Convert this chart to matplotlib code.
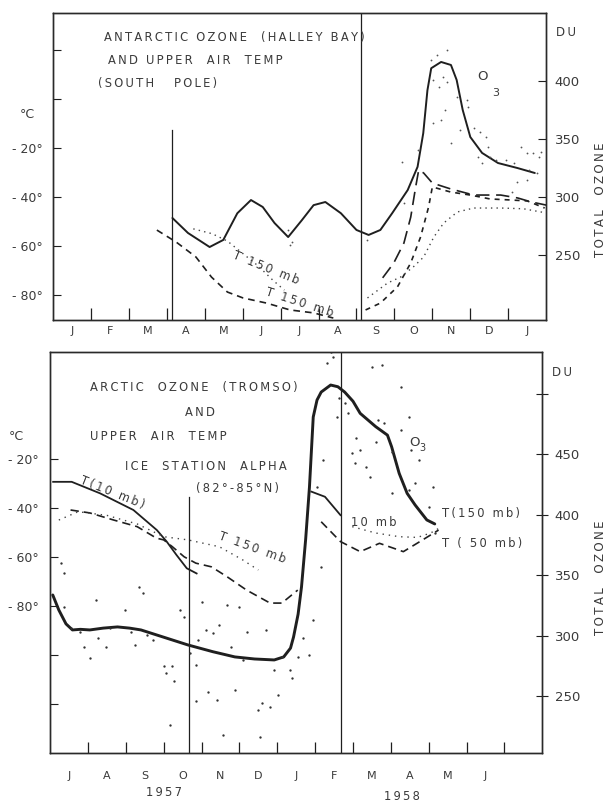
import matplotlib
matplotlib.use('Agg')
import matplotlib.pyplot as plt

# ---------------- data: top panel (Antarctic) ----------------
top_month_labels = ['J', 'F', 'M', 'A', 'M', 'J', 'J', 'A', 'S', 'O', 'N', 'D', 'J']
top_vlines = [3.15, 8.11]

top_o3_m = [3.15, 3.56, 4.13, 4.49, 4.86, 5.22, 5.53, 5.84, 6.20, 6.56, 6.87, 7.18, 7.59, 8.00,
            8.32, 8.63, 8.94, 9.35, 9.61, 9.76, 9.87, 9.97, 10.23, 10.49, 10.64, 10.80, 11.00,
            11.31, 11.73, 12.24, 12.70]
top_o3_du = [281.9, 269, 256.9, 263, 286, 297.4, 291.4, 277.6, 265.5, 280, 293, 295.7, 286, 271.6,
             267.3, 271.6, 286, 306, 326, 355, 392, 411, 416.4, 413.8, 400.9, 375, 351.7,
             338, 329.3, 325, 320.7]

top_dash_a_m = [2.74, 3.25, 3.77, 4.18, 4.60, 5.01, 5.63, 6.25, 6.87, 7.39]
top_dash_a_t = [-53.5, -58.4, -64.5, -72.7, -78.8, -81.2, -83.3, -86.1, -87.3, -89.4]
top_dash_b_m = [8.24, 8.63, 9.08, 9.43, 9.69, 9.90, 10.00, 10.49, 11.00, 11.52, 12.04, 12.50, 12.96]
top_dash_b_t = [-86.1, -83.3, -76.7, -66.9, -56.3, -44.1, -35.9, -38.0, -39.2, -40.8, -41.2, -41.6, -44.5]
top_long_m = [8.69, 8.98, 9.25, 9.43, 9.56, 9.64, 9.77, 10.00, 10.48, 11.09, 11.80, 12.25, 12.60, 13.0]
top_long_t = [-73, -67, -58.8, -48.2, -35.9, -29, -30.2, -34.3, -36.7, -39.2, -39.2, -40.4, -42, -43.3]
top_dot_a_m = [3.7, 4.2, 4.6, 5.4, 5.8, 6.1]
top_dot_a_t = [-53, -55, -58, -68, -74, -78]
top_dot_b_m = [8.29, 8.82, 9.16, 9.5, 9.77, 10.04, 10.3, 10.66, 11.09, 11.8, 12.4, 13.0]
top_dot_b_t = [-81.2, -75.1, -72.7, -68.5, -64.5, -56.3, -50.6, -46.1, -44.5, -44.5, -44.8, -46.5]

top_obs_m = [9.97, 10.12, 10.38, 10.02, 10.18, 10.28, 10.38, 10.33, 10.49, 10.64, 10.90, 10.95,
             10.02, 10.23, 10.74, 11.11, 11.26, 11.42, 11.47, 11.21, 11.31, 11.52, 11.67, 11.93,
             12.14, 12.34, 12.50, 12.66, 12.81, 12.86, 12.55, 12.76, 12.50, 12.24, 12.09, 9.19,
             9.61, 8.29, 6.20, 6.30, 6.25, 9.25]
top_obs_du = [418.1, 422.4, 426.7, 400.8, 395.1, 403.7, 399.4, 375.0, 346.3, 386.5, 383.6, 377.9,
              363.5, 366.4, 357.8, 359.2, 356.3, 352.0, 343.4, 334.8, 329.0, 334.8, 331.9, 331.9,
              329.0, 343.4, 337.6, 337.6, 334.8, 339.1, 323.3, 320.4, 314.7, 313.2, 304.6, 330.5,
              340.5, 262.9, 271.6, 261.5, 258.6, 294.5]

# ---------------- data: bottom panel (Arctic) ----------------
bot_month_labels = ['J', 'A', 'S', 'O', 'N', 'D', 'J', 'F', 'M', 'A', 'M', 'J']
bot_years = ['1957', '1958']
bot_vlines = [3.67, 7.69]

bot_o3_m = [0.07, 0.23, 0.42, 0.59, 0.80, 1.05, 1.40, 1.78, 2.10, 2.40, 3.00, 3.64, 4.30, 4.88,
            5.40, 5.92, 6.17, 6.35, 6.43, 6.55, 6.64, 6.75, 6.85, 6.95, 7.05, 7.16, 7.41, 7.60,
            7.78, 8.00, 8.19, 8.60, 8.91, 9.02, 9.22, 9.43, 9.64, 9.95, 10.16]
bot_o3_du = [333.9, 321.5, 310, 305, 305.5, 305, 306.5, 307.5, 306.5, 305, 299, 292.6, 287, 282.7,
             281, 280.2, 282.7, 290, 299.2, 318, 340.5, 380, 423, 481, 495, 501.6, 507.4, 506,
             501.6, 494, 484, 473, 466, 456.4, 434.4, 417.9, 408.3, 395.9, 392.6]

bot_t10_a_m = [0.08, 0.57, 1.32, 2.20, 2.82, 3.08, 3.34, 3.61, 3.87]
bot_t10_a_t = [-29.3, -29.3, -34.0, -40.8, -49.0, -53.7, -59.2, -64.6, -66.7]
bot_t10_b_m = [6.90, 7.26, 7.67]
bot_t10_b_t = [-33.3, -35.4, -42.9]

bot_t50_a_m = [0.54, 1.05, 1.68, 2.30, 2.81, 3.00, 3.23, 3.54, 3.85, 4.26, 4.67, 5.19, 5.81, 6.12, 6.54]
bot_t50_a_t = [-40.8, -42, -44.9, -47.6, -52.3, -53, -55.8, -59.9, -62.5, -64, -68, -73.5, -78.8, -78.8, -73.5]
bot_t50_b_m = [7.16, 7.67, 8.19, 8.70, 9.33, 9.84, 10.26]
bot_t50_b_t = [-45.6, -53.7, -57.8, -54.4, -57.8, -53, -49]

bot_t150_a_m = [0.23, 0.74, 1.5, 2.3, 3.0, 3.64, 4.47, 5.09, 5.50]
bot_t150_a_t = [-44.9, -41.5, -43, -46.5, -51.7, -53, -55.8, -61.2, -65.3]
bot_t150_b_m = [7.98, 8.60, 9.22, 9.70, 10.05, 10.3]
bot_t150_b_t = [-47.6, -50.2, -51.7, -52, -50.2, -48]

bot_obs_m = [0.28, 0.38, 0.38, 0.54, 0.80, 0.90, 1.05, 1.26, 1.47, 1.21, 1.57, 1.99, 2.14, 2.24,
             2.35, 2.45, 2.55, 2.71, 3.02, 3.07, 3.23, 3.28, 3.17, 3.43, 3.54, 3.69, 3.85, 3.85,
             3.90, 4.00, 4.11, 4.16, 4.31, 4.42, 4.47, 4.57, 4.67, 4.78, 4.88, 4.98, 5.09, 5.19,
             5.50, 5.55, 5.60, 5.71, 5.81, 5.91, 6.02, 6.12, 6.33, 6.38, 6.54, 6.69, 7.16, 7.05,
             7.21, 7.31, 7.41, 7.47, 7.57, 7.62, 7.78, 7.88, 8.04, 8.19, 8.35, 8.45, 8.50, 8.76,
             8.60, 8.66, 8.81, 9.02, 9.28, 9.28, 9.48, 9.53, 9.64, 9.74, 10.1, 10.0, 10.16, 9.48,
             9.02, 8.09, 7.98, 6.85, 6.95]
bot_obs_du = [360.1, 351.8, 324.3, 306.4, 303.7, 291.3, 281.6, 298.2, 291.3, 329.8, 306.4, 321.6,
              303.7, 292.7, 340.8, 335.3, 300.9, 296.8, 274.8, 269.3, 274.8, 262.4, 226.6, 321.6,
              316.0, 285.8, 276.1, 245.9, 296.8, 328.4, 305.0, 254.1, 302.3, 247.2, 309.2, 218.3,
              325.7, 291.3, 255.5, 324.3, 280.3, 303.7, 239.0, 216.9, 244.5, 305.0, 241.7, 272.0,
              251.4, 283.0, 272.0, 265.1, 283.0, 298.2, 357.4, 423.4, 445.5, 525.3, 534.9, 530.8,
              481.2, 496.4, 492.2, 484.0, 442.7, 453.7, 440.0, 431.7, 522.5, 523.9, 460.6, 478.5,
              475.7, 452.3, 506.0, 470.2, 481.2, 453.7, 426.2, 445.5, 423.4, 406.9, 384.9, 420.7,
              417.9, 463.3, 451.0, 284.4, 313.3]

# ---------------- styling ----------------
INK = '#1f1f1f'
TXT = '#3a3a3a'
W, H = 614, 801
plt.rcParams['font.family'] = ['DejaVu Sans']

fig = plt.figure(figsize=(W / 100, H / 100), dpi=100)
fig.patch.set_facecolor('white')


def fx(x):
    return x / W


def fy(y):
    return 1 - y / H


def spaced(s):
    # hand-lettered look: a thin space between letters
    return '\u2009'.join(s)


def label(x, y, s, size=8.3, **kw):
    kw.setdefault('va', 'center')
    fig.text(fx(x), fy(y), spaced(s), fontsize=size, color=TXT, **kw)


def style_axes(ax, ax2):
    for a in (ax, ax2):
        for s in a.spines.values():
            s.set_color('#2a2a2a')
            s.set_linewidth(1.0)
    ax.set_xlim(0, 13)


# ---------------- top panel ----------------
ax = fig.add_axes([fx(52.9), fy(320), fx(546.2) - fx(52.9), fy(13) - fy(320)])
ax2 = ax.twinx()
style_axes(ax, ax2)
ax.set_ylim(-90.2, 35.1)
ax2.set_ylim(194, 458.6)

ax.set_xticks(range(1, 13))
ax.set_xticklabels([])
ax.tick_params(axis='x', which='major', direction='in', length=9, width=0.9, color=INK)
ax.set_xticks([i + 0.5 for i in range(13)], minor=True)
ax.set_xticklabels(top_month_labels, minor=True, fontsize=8, color=TXT)
ax.tick_params(axis='x', which='minor', length=0, pad=4)

ax.set_yticks([-80, -60, -40, -20, 0, 20])
ax.set_yticklabels(['- 80°', '- 60°', '- 40°', '- 20°', '', ''], fontsize=9, color=TXT)
ax.tick_params(axis='y', direction='in', length=6, width=0.8, pad=7, color=INK)
ax2.set_yticks([250, 300, 350, 400])
ax2.set_yticklabels(['250', '300', '350', '400'], fontsize=9.5, color=TXT)
ax2.tick_params(axis='y', direction='in', length=6, width=0.8, pad=6, color=INK)

ax.axvline(top_vlines[0], ymin=0, ymax=(320 - 130) / 307, color=INK, lw=0.9)
ax.axvline(top_vlines[1], ymin=0, ymax=1, color=INK, lw=0.9)

ax2.plot(top_o3_m, top_o3_du, color=INK, lw=1.4, solid_capstyle='round')
ax.plot(top_dash_a_m, top_dash_a_t, color=INK, lw=1.2, dashes=(4, 3))
ax.plot(top_dash_b_m, top_dash_b_t, color=INK, lw=1.2, dashes=(3, 3))
ax.plot(top_long_m, top_long_t, color=INK, lw=1.2, dashes=(8, 4))
ax.plot(top_dot_a_m, top_dot_a_t, color='#444444', lw=1.0, dashes=(1, 3))
ax.plot(top_dot_b_m, top_dot_b_t, color='#444444', lw=1.0, dashes=(1, 3))
ax2.plot(top_obs_m, top_obs_du, ls='none', marker='o', ms=1.3, mew=0, color='#555555')

label(104, 37, 'ANTARCTIC OZONE  (HALLEY BAY)')
label(108, 60, 'AND UPPER  AIR  TEMP')
label(98, 83, '(SOUTH   POLE)')
fig.text(fx(482), fy(77), 'O', fontsize=9.5, color=TXT, ha='center', va='center')
fig.text(fx(496), fy(93), '3', fontsize=8, color=TXT, ha='center', va='center')
label(266, 268, 'T 150 mb', ha='center', rotation=-22)
label(300, 303, 'T 150 mb', ha='center', rotation=-18)
fig.text(fx(27), fy(114), '°C', fontsize=9, color=TXT, ha='center', va='center')
label(566, 32, 'DU', size=8.5, ha='center')
label(600, 200, 'TOTAL  OZONE', size=8.5, ha='center', rotation=90)

# ---------------- bottom panel ----------------
bx = fig.add_axes([fx(50.1), fy(753), fx(542.3) - fx(50.1), fy(352) - fy(753)])
bx2 = bx.twinx()
style_axes(bx, bx2)
bx.set_ylim(-140, 23.7)
bx2.set_ylim(203.3, 534.7)

bx.set_xticks(range(1, 13))
bx.set_xticklabels([])
bx.tick_params(axis='x', which='major', direction='in', length=8, width=0.9, color=INK)
bx.set_xticks([i + 0.5 for i in range(12)], minor=True)
bx.set_xticklabels(bot_month_labels, minor=True, fontsize=8, color=TXT)
bx.tick_params(axis='x', which='minor', length=0, pad=13)

bx.set_yticks([-120, -100, -80, -60, -40, -20])
bx.set_yticklabels(['', '', '- 80°', '- 60°', '- 40°', '- 20°'], fontsize=9, color=TXT)
bx.tick_params(axis='y', direction='in', length=6, width=0.8, pad=8, color=INK)
bx2.set_yticks([250, 300, 350, 400, 450, 500])
bx2.set_yticklabels(['250', '300', '350', '400', '450', ''], fontsize=9.5, color=TXT)
bx2.tick_params(axis='y', direction='inout', length=8, width=0.8, pad=5, color=INK)

bx.axvline(bot_vlines[0], ymin=0, ymax=(753 - 497) / 401, color=INK, lw=0.9)
bx.axvline(bot_vlines[1], ymin=0, ymax=1, color=INK, lw=0.9)

bx2.plot(bot_o3_m, bot_o3_du, color=INK, lw=2.1, solid_capstyle='round')
bx.plot(bot_t10_a_m, bot_t10_a_t, color=INK, lw=1.3)
bx.plot(bot_t10_b_m, bot_t10_b_t, color=INK, lw=1.3)
bx.plot(bot_t50_a_m, bot_t50_a_t, color=INK, lw=1.2, dashes=(5, 3))
bx.plot(bot_t50_b_m, bot_t50_b_t, color=INK, lw=1.2, dashes=(5, 3))
bx.plot(bot_t150_a_m, bot_t150_a_t, color='#444444', lw=1.0, dashes=(1, 3.5))
bx.plot(bot_t150_b_m, bot_t150_b_t, color='#444444', lw=1.0, dashes=(1, 3.5))
bx2.plot(bot_obs_m, bot_obs_du, ls='none', marker='o', ms=1.7, mew=0, color='#333333')

label(90, 387, 'ARCTIC  OZONE  (TROMSO)')
label(200, 412, 'AND', ha='center')
label(90, 437, 'UPPER  AIR  TEMP')
label(125, 467, 'ICE  STATION  ALPHA')
label(196, 488, '(82°-85°N)')
label(112, 493, 'T(10 mb)', ha='center', rotation=-22)
label(252, 548, 'T 150 mb', ha='center', rotation=-20)
fig.text(fx(414), fy(443), 'O', fontsize=9.5, color=TXT, ha='center', va='center')
fig.text(fx(422), fy(448), '3', fontsize=7, color=TXT, ha='center', va='center')
label(374, 522, '10 mb', ha='center')
label(442, 513, 'T(150 mb)')
label(442, 543, 'T ( 50 mb)')
fig.text(fx(16), fy(436), '°C', fontsize=9, color=TXT, ha='center', va='center')
label(562, 373, 'DU', size=8.5, ha='center')
label(600, 578, 'TOTAL  OZONE', size=8.5, ha='center', rotation=90)
label(50.1 + 3.0 * 37.86, 793, bot_years[0], ha='center')
label(50.1 + 9.28 * 37.86, 796, bot_years[1], ha='center')

fig.savefig('out.png', dpi=100, facecolor='white')
